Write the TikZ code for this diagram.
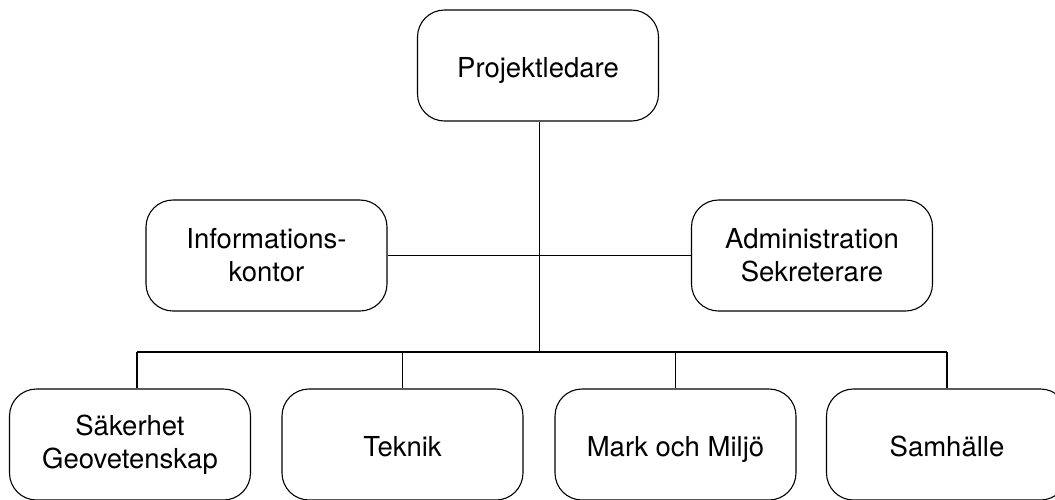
\documentclass[tikz,border=0pt]{standalone}
\usepackage{fontspec}
\setmainfont{TeX Gyre Heros}
\begin{document}
\begin{tikzpicture}[x=1pt,y=-1pt,
  box/.style={draw=black,line width=1.1pt,rounded corners=27pt,minimum width=241pt,minimum height=111pt,
    align=center,font=\fontsize{27.5}{33}\selectfont,inner sep=0pt},
  single/.style={text height=24pt,text depth=0pt},
  conn/.style={draw=black,line width=1.1pt}]
\useasboundingbox (0,0) rectangle (1055,499);
\node[box,single] (pl) at (538,65.5) {Projektledare};
\node[box] (info) at (266.5,255.5) {Informations-\\kontor};
\node[box] (adm) at (812,255.5) {Administration\\Sekreterare};
\node[box] (sak) at (130,444.5) {Säkerhet\\Geovetenskap};
\node[box,single] (tek) at (402.5,444.5) {Teknik};
\node[box,single] (mark) at (675.5,444.5) {Mark och Miljö};
\node[box,single] (sam) at (947,444.5) {Samhälle};
\coordinate (hub) at (539.5,352);
\coordinate (b1) at (137,352);
\coordinate (b4) at (947,352);
\draw[conn] (pl.south -| hub) -- (hub);
\draw[conn] (info.east) -- (adm.west);
\draw[conn] (b1) -- (b4);
\draw[conn] (b1) -- (b1 |- sak.north);
\draw[conn] (tek.north |- hub) -- (tek.north);
\draw[conn] (mark.north |- hub) -- (mark.north);
\draw[conn] (b4) -- (sam.north);
\end{tikzpicture}
\end{document}
